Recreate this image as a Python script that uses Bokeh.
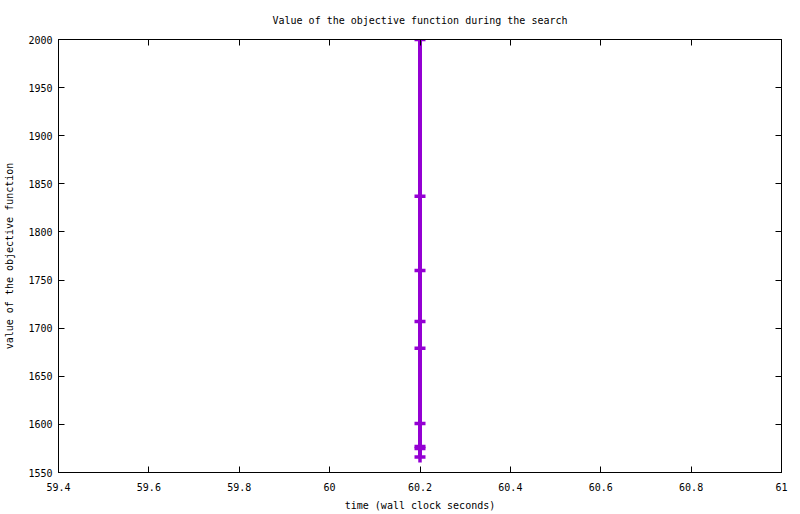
from bokeh.embed import file_html
from bokeh.models import (
    ColumnDataSource,
    CustomJSTickFormatter,
    CustomLabelingPolicy,
    FixedTicker,
    LinearAxis,
    Range1d,
)
from bokeh.plotting import figure
from bokeh.resources import INLINE

# search trace: wall clock time and objective value
time_s = [60.2, 60.2, 60.2, 60.2, 60.2, 60.2, 60.2, 60.2, 60.2]
objective = [2000, 1837, 1760, 1707, 1679, 1601, 1577, 1575, 1566]

x_ticks = [59.4, 59.6, 59.8, 60.0, 60.2, 60.4, 60.6, 60.8, 61.0]
y_ticks = [1550, 1600, 1650, 1700, 1750, 1800, 1850, 1900, 1950, 2000]

FONT = "DejaVu Sans Mono"
PURPLE = "#9400d3"

src = ColumnDataSource(data=dict(t=time_s, v=objective))

p = figure(
    frame_width=723,
    frame_height=433,
    min_border_left=58,
    min_border_right=19,
    min_border_top=39,
    min_border_bottom=42,
    x_range=Range1d(59.4, 61.0),
    y_range=Range1d(1550, 2000),
    title="Value of the objective function during the search",
    x_axis_label="time (wall clock seconds)",
    y_axis_label="value of the objective function",
    output_backend="svg",
    toolbar_location=None,
)

p.line("t", "v", source=src, color=PURPLE, line_width=4)
p.scatter("t", "v", source=src, marker="cross", size=11, line_width=3.5,
          color=PURPLE)

p.title.align = "center"
p.title.text_font = FONT
p.title.text_font_size = "10px"
p.title.text_font_style = "normal"
p.title.text_color = "black"
p.title.standoff = 6

p.grid.visible = False
p.outline_line_color = "black"
p.outline_line_width = 1
p.background_fill_color = "white"
p.border_fill_color = "white"

fmt = CustomJSTickFormatter(code="return (Math.round(tick * 10) / 10).toString();")

for ax in p.xaxis:
    ax.ticker = FixedTicker(ticks=x_ticks)
    ax.formatter = fmt
for ax in p.yaxis:
    ax.ticker = FixedTicker(ticks=y_ticks)

for ax in p.xaxis + p.yaxis:
    ax.major_tick_in = 6
    ax.major_tick_out = 0
    ax.minor_tick_line_color = None
    ax.axis_line_color = "black"
    ax.major_tick_line_color = "black"
    ax.major_label_text_font = FONT
    ax.major_label_text_font_size = "10px"
    ax.major_label_text_color = "black"
    ax.axis_label_text_font = FONT
    ax.axis_label_text_font_size = "10px"
    ax.axis_label_text_font_style = "normal"
    ax.axis_label_text_color = "black"

p.yaxis.major_label_standoff = 6
p.yaxis.axis_label_standoff = 10
p.xaxis.major_label_standoff = 10
p.xaxis.axis_label_standoff = 6

# mirrored inward ticks on top and right, like the original frame
no_labels = CustomLabelingPolicy(code="return new Set()")
top = LinearAxis(ticker=FixedTicker(ticks=x_ticks), major_label_policy=no_labels,
                 major_tick_in=6, major_tick_out=0, minor_tick_line_color=None,
                 major_label_standoff=0, axis_line_color="black")
right = LinearAxis(ticker=FixedTicker(ticks=y_ticks), major_label_policy=no_labels,
                   major_tick_in=6, major_tick_out=0, minor_tick_line_color=None,
                   major_label_standoff=0, axis_line_color="black")
p.add_layout(top, "above")
p.add_layout(right, "right")

open("out.html", "w").write(file_html(p, INLINE))
